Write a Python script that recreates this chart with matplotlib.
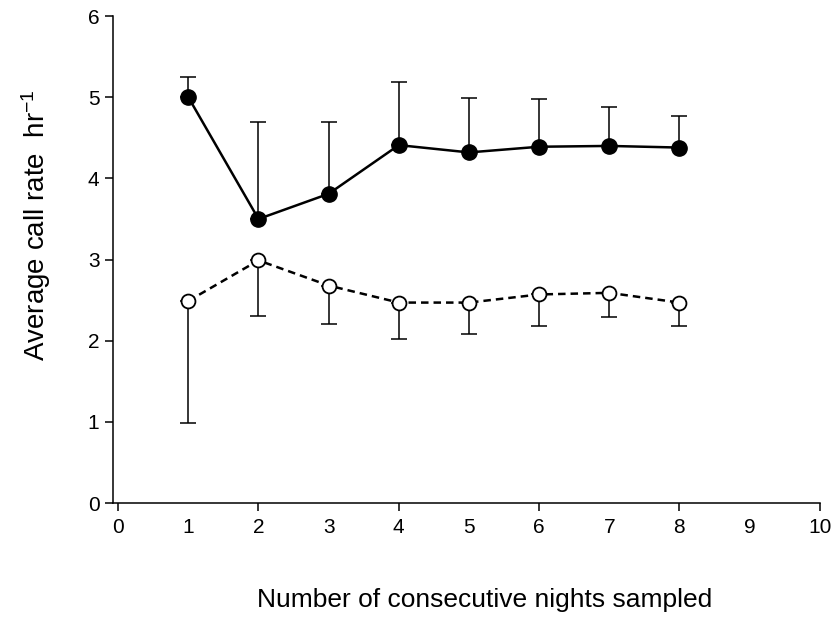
import numpy as np
import matplotlib.pyplot as plt

plt.rcParams['font.family'] = ['Liberation Sans', 'DejaVu Sans']
plt.rcParams['mathtext.fontset'] = 'custom'
plt.rcParams['mathtext.rm'] = 'Liberation Sans'
plt.rcParams['mathtext.it'] = 'Liberation Sans'

nights = [1, 2, 3, 4, 5, 6, 7, 8]

# filled circles: mean and upper error
rate_a = [5.00, 3.50, 3.81, 4.41, 4.32, 4.39, 4.40, 4.38]
err_a_up = [0.25, 1.20, 0.89, 0.78, 0.67, 0.59, 0.48, 0.39]

# open circles: mean and lower error
rate_b = [2.49, 2.99, 2.68, 2.47, 2.47, 2.57, 2.59, 2.47]
err_b_lo = [1.50, 0.69, 0.48, 0.45, 0.39, 0.39, 0.30, 0.29]

fig = plt.figure(figsize=(8.39, 6.18), dpi=100)
ax = fig.add_axes([0.135, 0.186, 0.842, 0.788])

zeros = np.zeros(len(nights))

ax.errorbar(nights, rate_a, yerr=[zeros, err_a_up], fmt='none',
            ecolor='black', elinewidth=1.1, capsize=5.5, capthick=1.1, zorder=2)
ax.plot(nights, rate_a, '-', color='black', lw=1.8,
        marker='o', ms=11, mfc='black', mec='black', zorder=3)

ax.errorbar(nights, rate_b, yerr=[err_b_lo, zeros], fmt='none',
            ecolor='black', elinewidth=1.1, capsize=5.5, capthick=1.1, zorder=2)
ax.plot(nights, rate_b, color='black', lw=1.8, dashes=(3, 2),
        marker='o', ms=10, mfc='white', mec='black', mew=1.3, zorder=3)

ax.set_xlim(-0.07, 10)
ax.set_ylim(0, 6)

ax.spines['top'].set_visible(False)
ax.spines['right'].set_visible(False)
ax.spines['left'].set_linewidth(1.1)
ax.spines['bottom'].set_linewidth(1.1)

ax.set_xticks([0, 2, 4, 6, 8, 10])
ax.set_xticks([1, 3, 5, 7, 9], minor=True)
ax.set_xticklabels(['0', '2', '4', '6', '8', '10'])
ax.set_xticklabels(['1', '3', '5', '7', '9'], minor=True)
ax.tick_params(axis='x', which='major', direction='out', length=6, width=1.1,
               labelsize=15, pad=5)
ax.tick_params(axis='x', which='minor', length=0, labelsize=15, pad=11)

ax.set_yticks(range(0, 7))
ax.tick_params(axis='y', direction='out', length=6, width=1.1, labelsize=15, pad=4)

ax.set_xlabel('Number of consecutive nights sampled', fontsize=19)
ax.set_ylabel('Average call rate  hr$^{-1}$', fontsize=20)
ax.xaxis.set_label_coords(0.525, -0.175)
ax.yaxis.set_label_coords(-0.085, 0.57)

fig.savefig('out.png', dpi=100)
plt.close()
